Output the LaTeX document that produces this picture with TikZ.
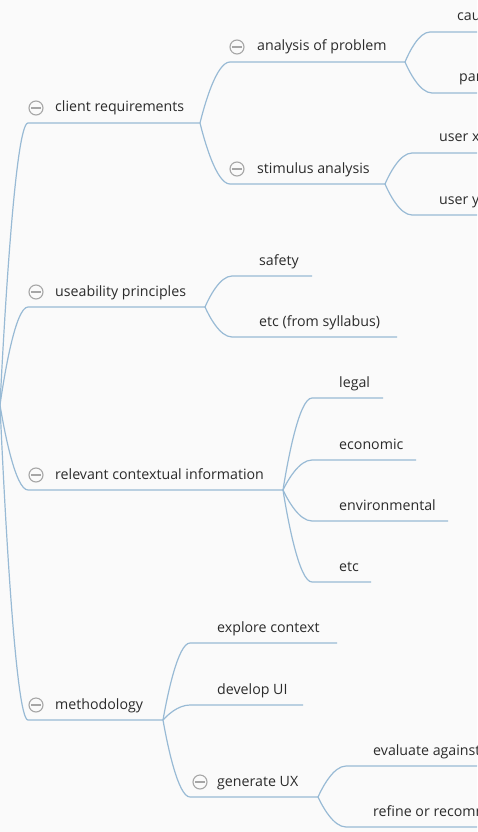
\documentclass[tikz,border=0pt]{standalone}
\usepackage{fontspec}
\setmainfont{Open Sans}
\usetikzlibrary{calc}
\definecolor{bg}{HTML}{FAFAFA}
\definecolor{linkblue}{HTML}{98BAD5}
\definecolor{ink}{HTML}{2B2B2B}
\definecolor{icongray}{HTML}{A6A6A6}
\tikzset{
  link/.style={draw=linkblue, line width=1.2pt},
  branch/.style={to path={let \p1=(\tikztostart), \p2=(\tikztotarget) in
      .. controls ({\x1+0.15*(\x2-\x1)},{\y1+0.3*(\y2-\y1)}) and ({0.45*(\x1+\x2)+0.1*\x2},\y2) .. (\tikztotarget)}},
  topic/.style={anchor=base west, inner sep=0pt, text=ink, font=\fontsize{14.2}{16}\selectfont},
  collapse/.style={circle, draw=icongray, line width=1.1pt, minimum size=14pt, inner sep=0pt,
    path picture={\draw[icongray, line width=1.1pt]
      ([xshift=-5pt]path picture bounding box.center) -- ([xshift=5pt]path picture bounding box.center);}}
}
% \mmtopic{name}{underline start x}{underline y}{underline end x}{text}
\newcommand\mmtopic[5]{%
  \coordinate (#1-s) at (#2,#3);
  \coordinate (#1-e) at (#4,#3);
  \node[topic] (#1) at ({#2+27},{#3-11}) {#5};
}
% \mmicon{name}{x}{y}
\newcommand\mmicon[3]{\node[collapse] (#1) at (#2,#3) {};}
\begin{document}
\begin{tikzpicture}[x=1pt,y=-1pt]
  \fill[bg] (0,0) rectangle (477,832);
  \useasboundingbox (0,0) rectangle (477,832);
  \clip (0,0) rectangle (477,832);

  \coordinate (root) at (0,405);

  % first level
  \mmtopic{cr}{28}{123}{200}{client requirements}
  \mmtopic{up}{28}{307}{205}{useability principles}
  \mmtopic{rci}{28}{490}{283}{relevant contextual information}
  \mmtopic{meth}{28}{720}{163}{methodology}
  \mmicon{cr-i}{36}{108}
  \mmicon{up-i}{36}{292}
  \mmicon{rci-i}{36}{475}
  \mmicon{meth-i}{36}{705}

  % second level
  \mmtopic{aop}{230}{62}{405}{analysis of problem}
  \mmtopic{sa}{230}{184}{385}{stimulus analysis}
  \mmicon{aop-i}{237}{47}
  \mmicon{sa-i}{237}{169}
  \mmtopic{safe}{232}{276}{312}{safety}
  \mmtopic{syl}{232}{337}{397}{etc (from syllabus)}
  \mmtopic{legal}{312}{398}{383}{legal}
  \mmtopic{econ}{312}{460}{416}{economic}
  \mmtopic{env}{312}{521}{448}{environmental}
  \mmtopic{etc}{312}{582}{371}{etc}
  \mmtopic{expl}{190}{643}{337}{explore context}
  \mmtopic{dev}{190}{705}{303}{develop UI}
  \mmtopic{gen}{190}{797}{318}{generate UX}
  \mmicon{gen-i}{200}{782}

  % third level (running past the right edge)
  \mmtopic{cau}{430}{32}{480}{causes}
  \mmtopic{par}{432}{93}{480}{parameters}
  \mmtopic{ux}{412}{153}{480}{user x}
  \mmtopic{uy}{412}{215}{480}{user y}
  \mmtopic{eval}{346}{766}{480}{evaluate against}
  \mmtopic{ref}{346}{827}{480}{refine or recommend}

  % connectors
  \foreach \c in {cr,up,rci,meth}
    \draw[link] (root) to[branch] (\c-s) -- (\c-e);
  \foreach \c in {aop,sa}
    \draw[link] (cr-e) to[branch] (\c-s) -- (\c-e);
  \foreach \c in {safe,syl}
    \draw[link] (up-e) to[branch] (\c-s) -- (\c-e);
  \foreach \c in {legal,econ,env,etc}
    \draw[link] (rci-e) to[branch] (\c-s) -- (\c-e);
  \foreach \c in {expl,dev,gen}
    \draw[link] (meth-e) to[branch] (\c-s) -- (\c-e);
  \foreach \c in {cau,par}
    \draw[link] (aop-e) to[branch] (\c-s) -- (\c-e);
  \foreach \c in {ux,uy}
    \draw[link] (sa-e) to[branch] (\c-s) -- (\c-e);
  \foreach \c in {eval,ref}
    \draw[link] (gen-e) to[branch] (\c-s) -- (\c-e);
\end{tikzpicture}
\end{document}
